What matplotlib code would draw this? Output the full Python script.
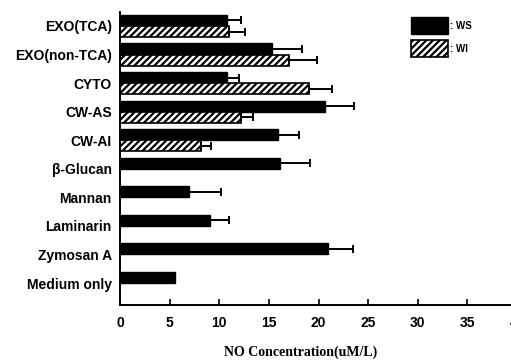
import numpy as np
import matplotlib
matplotlib.use('Agg')
import matplotlib.pyplot as plt

# datos (de arriba hacia abajo)
categorias = ['EXO(TCA)', 'EXO(non-TCA)', 'CYTO', 'CW-AS', 'CW-AI',
              'β-Glucan', 'Mannan', 'Laminarin', 'Zymosan A', 'Medium only']
ws = [10.8, 15.3, 10.8, 20.7, 15.9, 16.1, 7.0, 9.1, 21.0, 5.5]
ws_err = [1.4, 3.0, 1.2, 2.9, 2.1, 3.0, 3.2, 1.9, 2.5, 0.0]
wi = [11.0, 17.0, 19.0, 12.2, 8.2, np.nan, np.nan, np.nan, np.nan, np.nan]
wi_err = [1.6, 2.8, 2.4, 1.2, 1.0, np.nan, np.nan, np.nan, np.nan, np.nan]
xticks = [0, 5, 10, 15, 20, 25, 30, 35, 40]

plt.rcParams['hatch.linewidth'] = 1.6

fig = plt.figure(figsize=(5.11, 3.64), dpi=100)
ax = fig.add_axes([120/511, 59/364, 397/511, 293/364])

n = len(categorias)
pos = np.arange(n)[::-1]  # EXO(TCA) arriba
h = 0.39

ws = np.array(ws); ws_err = np.array(ws_err)
wi = np.array(wi); wi_err = np.array(wi_err)
ok = ~np.isnan(wi)

ekw = dict(ecolor='black', elinewidth=1.4, capsize=3, capthick=1.4)
b1 = ax.barh(pos + h/2, ws, height=h, color='black', edgecolor='black',
             xerr=[np.zeros(n), ws_err], error_kw=ekw, label=': WS')
b2 = ax.barh(pos[ok] - h/2, wi[ok], height=h, color='white', edgecolor='black',
             hatch='/////', lw=1.2,
             xerr=[np.zeros(ok.sum()), wi_err[ok]], error_kw=ekw, label=': WI')

ax.set_xlim(0, 40)
ax.set_ylim(-0.77, n - 1 + 0.49)
ax.set_yticks(pos)
ax.set_yticklabels(categorias, fontsize=10, fontweight='bold',
                   family='Liberation Sans')
ax.set_xticks(xticks)
ax.set_xticklabels([str(t) for t in xticks], fontsize=10, fontweight='bold',
                   family='Liberation Sans')
ax.tick_params(axis='x', direction='in', length=4, width=1.2, pad=8)
ax.tick_params(axis='y', direction='in', length=2, width=0.8, pad=6)
for s in ['top', 'right']:
    ax.spines[s].set_visible(False)
ax.spines['left'].set_linewidth(1.4)
ax.spines['bottom'].set_linewidth(1.4)

fig.text(301/511, 12/364, 'NO Concentration(uM/L)', ha='center', va='center',
         fontsize=10, fontweight='bold', family='Liberation Serif')

leg = ax.legend(handles=[b1, b2], loc='upper left', bbox_to_anchor=(0.72, 1.0),
                frameon=False, prop={'family': 'Liberation Sans', 'weight': 'bold', 'size': 7},
                handlelength=3.8, handleheight=2.4, handletextpad=0.2,
                labelspacing=0.55, borderpad=0)

fig.savefig('out.png', dpi=100)
